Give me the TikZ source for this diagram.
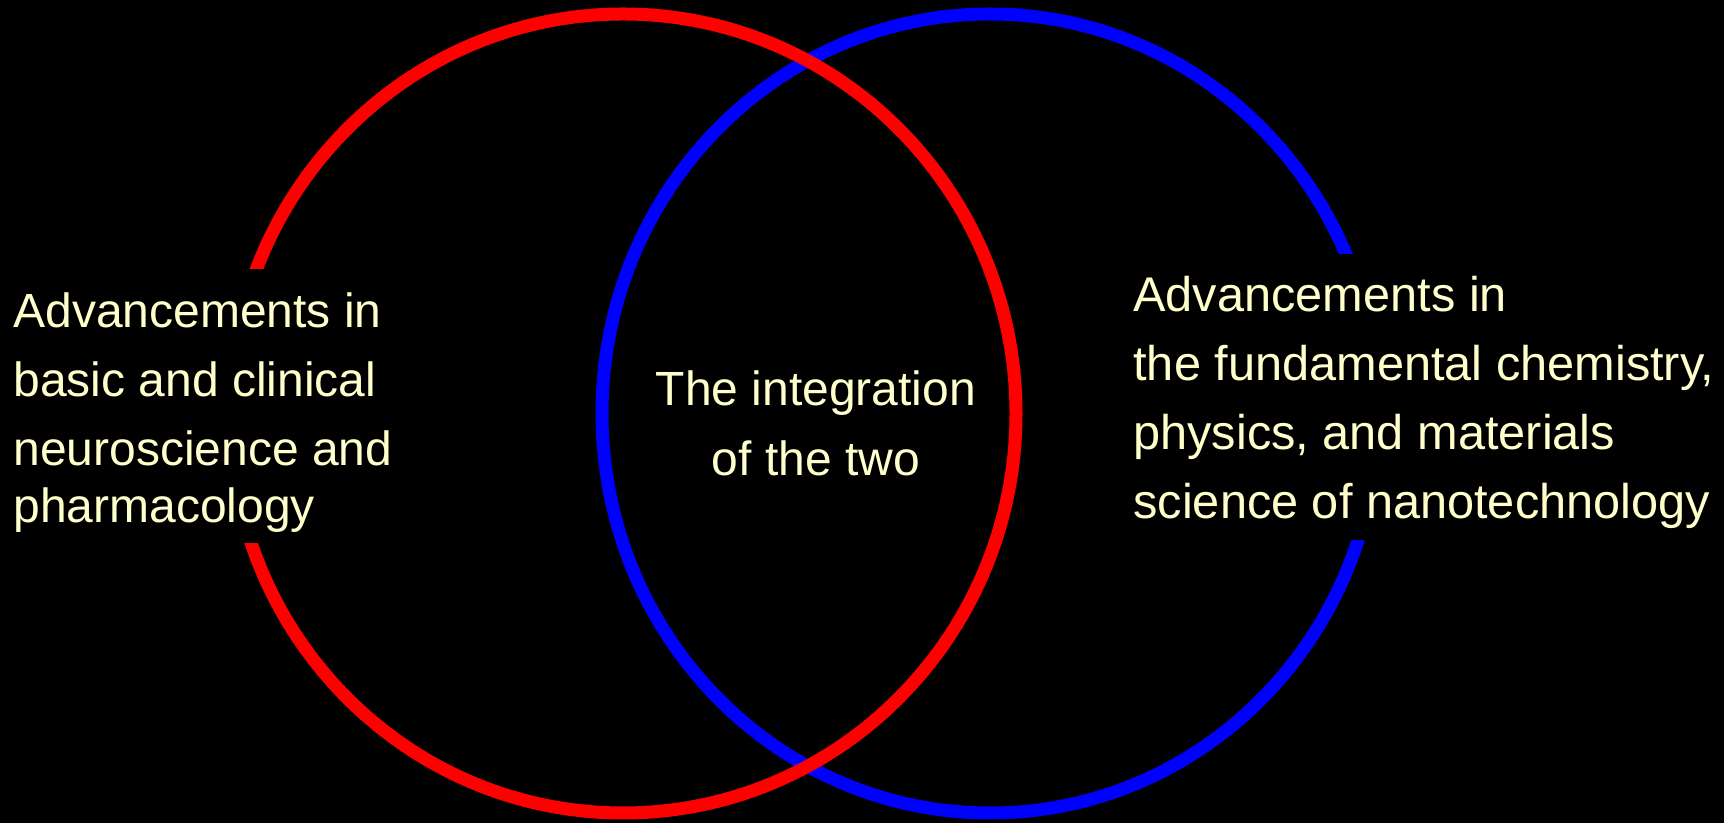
\documentclass[tikz,border=0pt]{standalone}
\usepackage{fontspec}
\setmainfont{Liberation Sans}
\definecolor{paletext}{RGB}{255,255,204}

\begin{document}
\begin{tikzpicture}[x=0.5pt,y=0.5pt,
ring/.style={line width=6.5pt},
caption/.style={text=paletext,font=\fontsize{24}{34.5}\selectfont,inner sep=0pt},
side caption/.style={caption,fill=black,align=left,anchor=north west}]
% The black page
\fill[black] (0,0) rectangle (1724,823);
\useasboundingbox (0,0) rectangle (1724,823);
% The two rings, red one on top
\draw[ring,blue] (990,409.5) ellipse [x radius=388,y radius=399.5];
\draw[ring,red] (623,409.5) ellipse [x radius=393,y radius=399.5];
% Left text, its black box cuts the red ring
\node[side caption] (neuro) at (13,554)
  {\rule{0pt}{29pt}Advancements in\\
   basic and clinical\\
   neuroscience and\\[-6pt]
   pharmacology\rule[-10.5pt]{0pt}{10.5pt}};
% Right text, its black box cuts the blue ring
\node[side caption,font=\fontsize{24.35}{34.5}\selectfont] (nano) at (1133,569)
  {\rule{0pt}{28.5pt}Advancements in\\
   the fundamental chemistry,\\
   physics, and materials\\
   science of nanotechnology\rule[-11pt]{0pt}{11pt}};
% The overlap
\node[caption,align=center,anchor=north] (both) at (816,458)
  {\rule{0pt}{20pt}The integration\\[0.5pt]
   of the two};
\end{tikzpicture}
\end{document}
